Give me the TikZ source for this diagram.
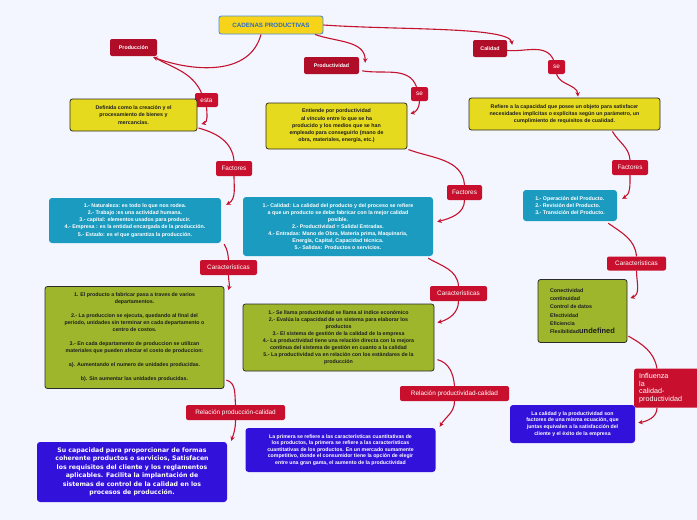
\documentclass[tikz,border=0pt]{standalone}
\usepackage{fontspec}
\setmainfont{Liberation Sans}
\newfontfamily\dvfont{DejaVu Sans}
\usetikzlibrary{arrows.meta}
\definecolor{bgc}{HTML}{F3F6FE}
\definecolor{titlefill}{HTML}{F7D31A}
\definecolor{titleborder}{HTML}{4A8FDB}
\definecolor{titletext}{HTML}{2B6CC4}
\definecolor{topred}{HTML}{B00D28}
\definecolor{labred}{HTML}{C8102E}
\definecolor{linkc}{HTML}{C4122F}
\definecolor{ybg}{HTML}{E6DA1E}
\definecolor{bord}{HTML}{2B2B2B}
\definecolor{txt}{HTML}{1E1E1E}
\definecolor{tealc}{HTML}{1B9BBF}
\definecolor{greenc}{HTML}{9DB62C}
\definecolor{bluec}{HTML}{3212DB}
\tikzset{
  base/.style={rounded corners=2.5pt, inner sep=1pt, align=center},
  titlebox/.style={base, fill=titlefill, draw=titleborder, line width=0.9pt, text=titletext, font=\fontsize{6.2}{7}\selectfont\bfseries},
  topbox/.style={base, fill=topred, text=white, font=\fontsize{5.3}{6}\selectfont\bfseries, rounded corners=2pt},
  lab/.style={base, fill=labred, text=white, font=\fontsize{6.4}{7.5}\selectfont, rounded corners=2pt},
  ybox/.style={base, fill=ybg, draw=bord, line width=0.8pt, text=txt, font=\fontsize{5.3}{7.2}\selectfont\bfseries},
  tbox/.style={base, fill=tealc, text=white, rounded corners=3pt, font=\fontsize{5.3}{7.1}\selectfont\bfseries},
  gbox/.style={base, fill=greenc, draw=bord, line width=0.8pt, text=txt, font=\fontsize{5.3}{7}\selectfont\bfseries},
  bluebox/.style={base, fill=bluec, text=white, rounded corners=3pt, font=\fontsize{5.2}{6.8}\selectfont\bfseries},
  link/.style={draw=linkc, line width=1.1pt},
  arr/.style={link, -{Stealth[length=4.5pt,width=4.5pt]}},
}
\begin{document}
\begin{tikzpicture}[x=1pt,y=1pt]
\useasboundingbox (0,0) rectangle (697,-520);
\clip (0,0) rectangle (697,-520);
\fill[bgc] (0,0) rectangle (697,-520);

% top level
\node[titlebox, minimum width=104, minimum height=18] (title) at (271,-25) {CADENAS PRODUCTIVAS};
\node[topbox, minimum width=47, minimum height=17] (prodr) at (133.5,-47.5) {Producción};
\node[topbox, minimum width=55, minimum height=17] (prodv) at (331.5,-65.5) {Productividad};
\node[topbox, minimum width=34, minimum height=17] (cal) at (490,-48.5) {Calidad};

% Produccion branch
\node[lab, minimum width=23, minimum height=14] (esta) at (206.5,-100) {esta};
\node[ybox, minimum width=127, minimum height=32] (pyel) at (133.5,-115) {Definida como la creación y el\\procesamiento de bienes y\\mercancías.};
\node[lab, minimum width=36, minimum height=15] (fac1) at (234,-168.5) {Factores};
\node[tbox, minimum width=172, minimum height=45] (teal1) at (135,-220.5) {1.- Naturaleza: es todo lo que nos rodea.\\2.- Trabajo :es una actividad humana.\\3.- capital: elementos usados para producir.\\4.- Empresa : es la entidad encargada de la producción.\\5.- Estado: es el que garantiza la producción.};
\node[lab, minimum width=57, minimum height=15] (car1) at (228.5,-267.5) {Características};
\node[gbox, minimum width=179, minimum height=102] (green1) at (134.5,-337.5) {1. El producto a fabricar pasa a traves de varios\\departamentos.\\[7pt]2.- La produccion se ejecuta, quedando al final del\\periodo, unidades sin terminar en cada departamento o\\centro de costos.\\[7pt]3.- En cada departamento de produccion se utilizan\\materiales que pueden afectar el costo de produccion:\\[7pt]a). Aumentando el numero de unidades producidas.\\[7pt]b). Sin aumentar las unidades producidas.};
\node[lab, minimum width=99, minimum height=15] (rel1) at (235.5,-412.5) {Relación producción-calidad};
\node[bluebox, minimum width=190, minimum height=60, font=\dvfont\fontsize{6.2}{8.5}\selectfont\bfseries] (blue1) at (132,-472) {Su capacidad para proporcionar de formas\\coherente productos o servicios, Satisfacen\\los requisitos del cliente y los reglamentos\\aplicables. Facilita la implantación de\\sistemas de control de la calidad en los\\procesos de producción.};

% Productividad branch
\node[lab, minimum width=17, minimum height=14] (se1) at (419.5,-94) {se};
\node[ybox, minimum width=141, minimum height=46] (py2) at (336.5,-126) {Entiende por porductividad\\al vínculo entre lo que se ha\\producido y los medios que se han\\empleado para conseguirlo (mano de\\obra, materiales, energía, etc.)};
\node[lab, minimum width=35, minimum height=15] (fac2) at (464.5,-192.5) {Factores};
\node[tbox, minimum width=190, minimum height=59] (teal2) at (338,-226.5) {1.- Calidad: La calidad del producto y del proceso se refiere\\a que un producto se debe fabricar con la mejor calidad\\posible.\\2.- Productividad = Salida/ Entradas.\\4.- Entradas: Mano de Obra, Materia prima, Maquinaria,\\Energía, Capital, Capacidad técnica.\\5.- Salidas: Productos o servicios.};
\node[lab, minimum width=57, minimum height=15] (car2) at (458.5,-293.5) {Características};
\node[gbox, minimum width=191, minimum height=67] (green2) at (338.5,-337.5) {1.- Se llama productividad se llama al índice económico\\2.- Evalúa la capacidad de un sistema para elaborar los\\productos\\3.- El sistema de gestión de la calidad de la empresa\\4.- La productividad tiene una relación directa con la mejora\\continua del sistema de gestión en cuanto a la calidad\\5.- La productividad va en relación con los estándares de la\\producción};
\node[lab, minimum width=109, minimum height=15] (rel2) at (454.5,-393.5) {Relación productividad-calidad};
\node[bluebox, minimum width=190, minimum height=44, font=\fontsize{5.2}{6.6}\selectfont\bfseries] (blue2) at (340.5,-450) {La primera se refiere a las características cuantitativas de\\los productos, la primera se refiere a las características\\cuantitativas de los productos. En un mercado sumamente\\competitivo, donde el consumidor tiene la opción de elegir\\entre una gran gama, el aumento de la productividad};

% Calidad branch
\node[lab, minimum width=17, minimum height=14] (se3) at (556.5,-67) {se};
\node[ybox, minimum width=191, minimum height=32] (ycal) at (564.5,-114) {Refiere a la capacidad que posee un objeto para satisfacer\\necesidades implícitas o explícitas según un parámetro, un\\cumplimiento de requisitos de cualidad.};
\node[lab, minimum width=36, minimum height=15] (fac3) at (630,-167.5) {Factores};
\node[tbox, minimum width=94, minimum height=31, align=left] (teal3) at (570,-205.5) {1.- Operación del Producto.\\2.- Revisión del Producto.\\3.- Transición del Producto.};
\node[lab, minimum width=59, minimum height=14] (car3) at (636.5,-263.5) {Características};
\node[gbox, minimum width=89, minimum height=63, align=left, font=\fontsize{5.3}{8.3}\selectfont\bfseries] (green3) at (582.5,-311) {Conectividad\\continuidad\\Control de datos\\Efectividad\\Eficiencia\\Flexibilidad{\fontsize{7.5}{8.3}\selectfont undefined}};
\node[lab, anchor=north west, text width=65, inner xsep=5, minimum height=39, align=left, font=\fontsize{7.2}{7.7}\selectfont] (infl) at (634,-368.5) {Influenza\\la\\calidad-\\productividad};
\node[bluebox, minimum width=125, minimum height=38, font=\fontsize{5.2}{6.9}\selectfont\bfseries] (blue3) at (572.5,-424) {La calidad y la productividad son\\factores de una misma ecuación, que\\juntas equivalen a la satisfacción del\\cliente y el éxito de la empresa};

% connectors: Produccion
\draw[arr] ([xshift=-10]title.south) to[out=-105,in=-20] ([shift={(-4,-1)}]prodr.south east);
\draw[link] ([shift={(-3,-1)}]prodr.south east) to[out=-30,in=115] ([xshift=-5]esta.north);
\draw[arr] (esta.south) to[out=-85,in=15] ([shift={(4,-9)}]pyel.east);
\draw[link] ([shift={(1,-13)}]pyel.east) to[out=-15,in=95] (fac1.north);
\draw[arr] (fac1.south) to[out=-90,in=30] ([shift={(5,-7)}]teal1.north east);
\draw[link] ([shift={(3,-1)}]teal1.south east) to[out=-60,in=95] (car1.north);
\draw[arr] (car1.south) to[out=-90,in=75] ([shift={(4,-4)}]green1.north east);
\draw[link] ([shift={(2,-94)}]green1.north east) to[out=-15,in=95] (rel1.north);
\draw[arr] (rel1.south) to[out=-90,in=70] ([shift={(4,1)}]blue1.north east);

% connectors: Productividad
\draw[arr] ([xshift=44]title.south) to[out=-20,in=90] ([shift={(6,-6)}]prodv.north east);
\draw[link] ([shift={(3,-14)}]prodv.north east) to[out=-10,in=110] ([xshift=-3]se1.north);
\draw[arr] (se1.south) to[out=-90,in=15] ([shift={(3,-11)}]py2.north east);
\draw[link] ([shift={(1,-47)}]py2.north east) to[out=-20,in=95] (fac2.north);
\draw[arr] (fac2.south) to[out=-90,in=15] ([shift={(4,-25)}]teal2.north east);
\draw[link] ([shift={(-5,-2)}]teal2.south east) to[out=-30,in=95] (car2.north);
\draw[arr] (car2.south) to[out=-90,in=15] ([shift={(3,-19)}]green2.north east);
\draw[link] ([shift={(3,-56)}]green2.north east) to[out=-15,in=95] (rel2.north);
\draw[arr] (rel2.south) to[out=-90,in=60] ([shift={(4,1)}]blue2.north east);

% connectors: Calidad
\draw[arr] (title.east) to[out=-4,in=100,in looseness=0.25] ([shift={(5,-5)}]cal.north east);
\draw[link] ([yshift=-2]cal.east) to[out=-5,in=115] ([xshift=-3]se3.north);
\draw[arr] (se3.south) to[out=-70,in=95] ([shift={(13.5,1)}]ycal.north);
\draw[link] ([shift={(-48,-1)}]ycal.south east) to[out=-60,in=95] (fac3.north);
\draw[arr] (fac3.south) to[out=-90,in=30] ([shift={(5,-9)}]teal3.north east);
\draw[link] ([shift={(-9,-2)}]teal3.south east) to[out=-35,in=95] (car3.north);
\draw[arr] (car3.south) to[out=-90,in=20] ([shift={(3,-19)}]green3.north east);
\draw[link] ([shift={(1,-57)}]green3.north east) to[out=-30,in=100] ([xshift=23]infl.north west);
\draw[arr] ([xshift=23]infl.south west) to[out=-90,in=10] ([shift={(3,-18)}]blue3.north east);
\end{tikzpicture}
\end{document}
